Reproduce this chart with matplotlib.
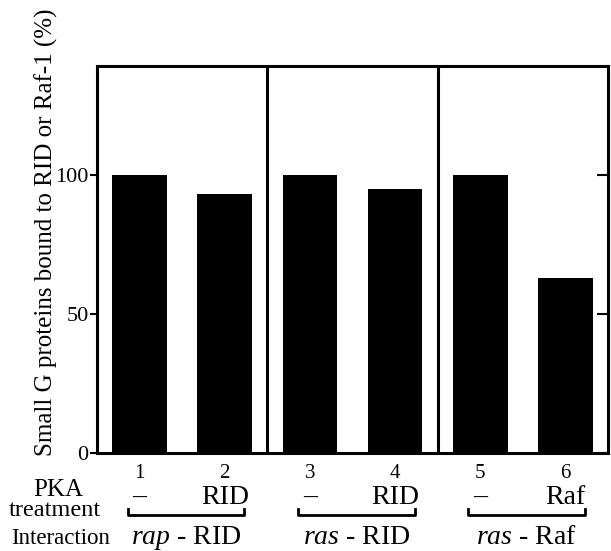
import matplotlib
matplotlib.use("Agg")
import matplotlib.pyplot as plt
from matplotlib.transforms import blended_transform_factory

# dane
lanes = ["1", "2", "3", "4", "5", "6"]
bound = [100, 93, 100, 95, 100, 63]
pka = ["\u2013", "RID", "\u2013", "RID", "\u2013", "Raf"]
interactions = [r"$\mathit{rap}$ - RID", r"$\mathit{ras}$ - RID", r"$\mathit{ras}$ - Raf"]
yticks = [0, 50, 100]

plt.rcParams["font.family"] = ["Liberation Serif", "DejaVu Serif"]
plt.rcParams["mathtext.fontset"] = "custom"
plt.rcParams["mathtext.rm"] = "Liberation Serif"
plt.rcParams["mathtext.it"] = "Liberation Serif:italic"

W, H = 611, 551
fig = plt.figure(figsize=(W / 100, H / 100), dpi=100)
ax = fig.add_axes([97 / W, 1 - 453 / H, (608 - 97) / W, (453 - 66) / H])

xpos = [i + 0.5 for i in range(len(lanes))]
ax.bar(xpos, bound, width=0.64, color="black")
ax.set_xlim(0, 6)
ax.set_ylim(0, 139)
for xd in [2, 4]:
    ax.axvline(xd, color="black", lw=2.2)

for s in ax.spines.values():
    s.set_linewidth(2.2)
ax.set_xticks([])
ax.set_yticks(yticks)
ax.tick_params(axis="y", direction="out", length=5, width=1.5, labelsize=16, pad=1)

ax2 = ax.twinx()
ax2.set_ylim(0, 139)
ax2.set_yticks(yticks)
ax2.set_yticklabels([])
ax2.tick_params(axis="y", direction="in", length=8, width=1.5)

fig.text(46 / W, 1 - 232 / H, "Small G proteins bound to RID or Raf-1 (%)",
         rotation=90, ha="center", va="center", fontsize=18)

# opisy pod osia
tr = blended_transform_factory(ax.transData, fig.transFigure)
def fy(py):
    return 1 - py / H

for x, lab, p in zip(xpos, lanes, pka):
    ax.text(x, fy(473), lab, transform=tr, ha="center", va="center", fontsize=15)
    ax.text(x, fy(497), p, transform=tr, ha="center", va="center", fontsize=20)

fig.text(58 / W, fy(490), "PKA", ha="center", va="center", fontsize=18)
fig.text(55 / W, fy(510), "treatment", ha="center", va="center", fontsize=17.5)
fig.text(61 / W, fy(538), "Interaction", ha="center", va="center", fontsize=16.5)

for g, name in enumerate(interactions):
    x0 = xpos[2 * g] - 0.14
    x1 = xpos[2 * g + 1] + 0.23
    ax.plot([x0, x0, x1, x1], [fy(509), fy(515), fy(515), fy(509)],
            transform=tr, color="black", lw=2, clip_on=False)
    ax.text((x0 + x1) / 2, fy(538), name, transform=tr, ha="center", va="center", fontsize=20)

fig.savefig("out.png", dpi=100)
